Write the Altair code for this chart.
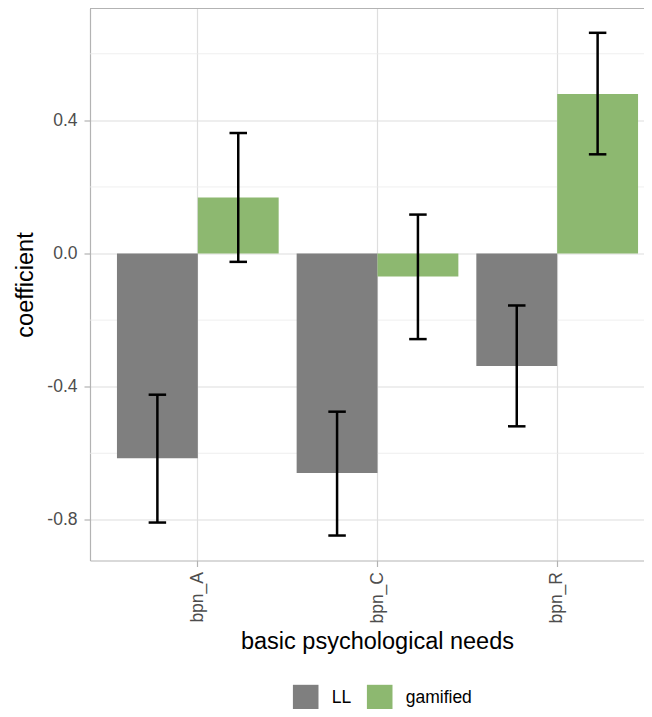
import altair as alt
import pandas as pd

needs = ["bpn_A", "bpn_C", "bpn_R"]
groups = ["LL", "gamified"]
ll_coef = [-0.615, -0.659, -0.338]
ll_lower = [-0.808, -0.847, -0.519]
ll_upper = [-0.424, -0.475, -0.156]
gam_coef = [0.168, -0.069, 0.479]
gam_lower = [-0.025, -0.257, 0.298]
gam_upper = [0.362, 0.117, 0.663]
major_ticks = [-0.8, -0.4, 0.0, 0.4]
minor_ticks = [-0.6, -0.2, 0.2, 0.6]
colors = ["#7f7f7f", "#8db870"]
y_domain = [-0.922, 0.736]

rows = []
for i, n in enumerate(needs):
    rows.append({"need": n, "group": "LL", "coef": ll_coef[i],
                 "lower": ll_lower[i], "upper": ll_upper[i]})
    rows.append({"need": n, "group": "gamified", "coef": gam_coef[i],
                 "lower": gam_lower[i], "upper": gam_upper[i]})
df = pd.DataFrame(rows)
minor_df = pd.DataFrame({"v": minor_ticks})
border_df = pd.DataFrame({"v": [y_domain[1]]})

FONT = "Liberation Sans"
W, H = 554, 552
X_RANGE = [0, 575]
BORDER = "#b3b3b3"

x_scale = alt.Scale(range=X_RANGE, paddingInner=0.1, paddingOuter=0.15)
x_enc = alt.X(
    "need:N",
    sort=needs,
    scale=x_scale,
    axis=alt.Axis(
        title="basic psychological needs",
        labelAngle=-90, labelAlign="right", labelBaseline="middle",
        labelPadding=5, tickSize=6, tickColor=BORDER, tickWidth=1.2,
        domain=True, domainColor=BORDER, domainWidth=1.2,
        grid=True, gridColor="#dedede", gridWidth=1.2,
        labelFontSize=17.5, labelColor="#4d4d4d", labelFont=FONT,
        titleFontSize=23.5, titleFont=FONT, titleColor="black",
        titleFontWeight="normal", titleBaseline="alphabetic",
        titleX=287, titleY=88, titleAlign="center",
    ),
)
xoff_enc = alt.XOffset("group:N", sort=groups,
                       scale=alt.Scale(paddingInner=0, paddingOuter=0))
y_scale = alt.Scale(domain=y_domain, nice=False, zero=False)

minor = alt.Chart(minor_df).mark_rule(color="#ebebeb", strokeWidth=0.8).encode(
    y=alt.Y("v:Q", scale=y_scale)
)

top_border = alt.Chart(border_df).mark_rule(color=BORDER, strokeWidth=1.2).encode(
    y=alt.Y("v:Q", scale=y_scale)
)

bars = alt.Chart(df).mark_bar().encode(
    x=x_enc,
    xOffset=xoff_enc,
    y=alt.Y(
        "coef:Q", scale=y_scale,
        axis=alt.Axis(
            title="coefficient", values=major_ticks,
            labelExpr="replace(format(datum.value, '.1f'), '\u2212', '-')",
            tickSize=6, tickColor=BORDER, tickWidth=1.2, labelPadding=7,
            domain=True, domainColor=BORDER, domainWidth=1.2,
            grid=True, gridColor="#dedede", gridWidth=1.2,
            labelFontSize=17.5, labelColor="#4d4d4d", labelFont=FONT,
            titleFontSize=23.5, titleFont=FONT, titleColor="black",
            titleFontWeight="normal", titleBaseline="alphabetic",
            titleX=-57.6, titleY=276, titleAlign="center", titleAngle=-90,
        ),
    ),
    color=alt.Color(
        "group:N", sort=groups,
        scale=alt.Scale(domain=groups, range=colors),
        legend=alt.Legend(
            title=None, orient="none", direction="horizontal",
            legendX=202.7, legendY=676, padding=0,
            symbolType="square", symbolSize=655, symbolStrokeWidth=0,
            symbolOpacity=1,
            labelFontSize=17.5, labelFont=FONT, labelColor="black",
            labelOffset=13, columnPadding=15,
        ),
    ),
)

rules = alt.Chart(df).mark_rule(color="black", strokeWidth=2.5).encode(
    x=alt.X("need:N", sort=needs, scale=x_scale),
    xOffset=xoff_enc,
    y=alt.Y("lower:Q", scale=y_scale),
    y2="upper:Q",
)

caps = alt.Chart(df).transform_fold(
    ["lower", "upper"], as_=["end", "val"]
).mark_tick(color="black", thickness=2.5, size=17.5, opacity=1).encode(
    x=alt.X("need:N", sort=needs, scale=x_scale),
    xOffset=xoff_enc,
    y=alt.Y("val:Q", scale=y_scale),
)

chart = alt.layer(minor, top_border, bars, rules, caps).properties(
    width=W, height=H,
    autosize=alt.AutoSizeParams(type="none"),
    padding={"left": 82, "top": 0.5, "right": 0, "bottom": 148.5},
    background="white",
).configure_view(stroke=None)

chart.save("out.html", embed_options={"renderer": "svg", "actions": False})
